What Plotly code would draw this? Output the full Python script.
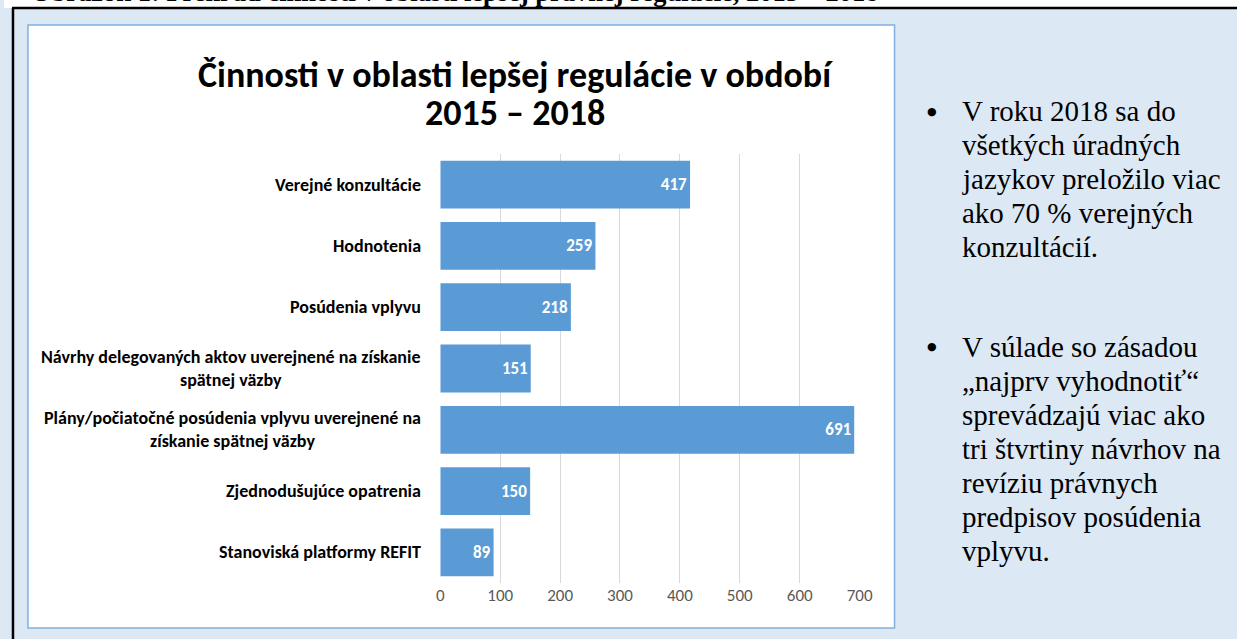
import plotly.graph_objects as go

W, H = 1237, 639
WE = 1222  # effective drawing width observed in the viewer

categories = [
    "Verejné konzultácie",
    "Hodnotenia",
    "Posúdenia vplyvu",
    "Návrhy delegovaných aktov uverejnené na získanie<br>spätnej väzby",
    "Plány/počiatočné posúdenia vplyvu uverejnené na<br>získanie spätnej väzby",
    "Zjednodušujúce opatrenia",
    "Stanoviská platformy REFIT",
]
values = [417, 259, 218, 151, 691, 150, 89]
x_ticks = [0, 100, 200, 300, 400, 500, 600, 700]

title_lines = ["Činnosti v oblasti lepšej regulácie v období", "2015 – 2018"]
caption_text = "Obrázok 1: Prehľad činnosti v oblasti lepšej právnej regulácie, 2015 – 2018"
bullet1 = ["V roku 2018 sa do", "všetkých úradných", "jazykov preložilo viac",
           "ako 70 % verejných", "konzultácií."]
bullet2 = ["V súlade so zásadou", "„najprv vyhodnotiť“", "sprevádzajú viac ako",
           "tri štvrtiny návrhov na", "revíziu právnych", "predpisov posúdenia", "vplyvu."]

SANS = "Carlito, Calibri, Lato, sans-serif"
SERIF = "Liberation Serif, Times New Roman, serif"
BG = "#dde8f5"


def px(x):
    return x / WE


def py(y):
    return 1 - y / H


fig = go.Figure()
fig.add_trace(
    go.Bar(
        x=values,
        y=categories,
        orientation="h",
        marker=dict(color="#5b9bd5", line=dict(width=0)),
        text=values,
        texttemplate="<b>%{x}</b>",
        textposition="inside",
        insidetextanchor="end",
        textfont=dict(color="white", size=17, family=SANS),
        hoverinfo="skip",
    )
)
# caption at very top, clipped by a thin subplot strip
fig.add_trace(
    go.Scatter(
        x=[27], y=[6], mode="text", text=["<b>" + caption_text + "</b>"],
        textposition="middle right", textfont=dict(family=SERIF, size=26.5, color="black"),
        xaxis="x2", yaxis="y2", cliponaxis=True, hoverinfo="skip",
    )
)

shapes = [
    dict(type="rect", xref="paper", yref="paper", x0=0, x1=1.05, y0=py(8), y1=1,
         fillcolor="white", line=dict(width=0), layer="below"),
    dict(type="rect", xref="paper", yref="paper", x0=px(24), x1=px(892), y0=py(628), y1=py(25),
         fillcolor="white", line=dict(color="#7fb0e0", width=1.5), layer="below"),
    dict(type="line", xref="paper", yref="paper", x0=px(8), x1=1.05, y0=py(8), y1=py(8),
         line=dict(color="black", width=2.5)),
    dict(type="line", xref="paper", yref="paper", x0=px(9), x1=px(9), y0=0, y1=py(8),
         line=dict(color="black", width=2.5)),
]

annotations = []
for t, yy in zip(title_lines, [75, 113]):
    annotations.append(dict(text="<b>" + t + "</b>", xref="paper", yref="paper",
                            x=px(512), y=py(yy), xanchor="center", yanchor="middle",
                            showarrow=False, font=dict(family=SANS, size=36, color="black")))
for c in categories:
    annotations.append(dict(text="<b>" + c + "</b>", xref="x", yref="y", x=0, y=c,
                            xanchor="right", yanchor="middle", xshift=-17, align="center",
                            showarrow=False, font=dict(family=SANS, size=18, color="black")))
b1_y = [111, 145, 179, 213, 247]
b2_y = [347, 381, 415, 449, 483, 517, 551]
for lines, ys in ((bullet1, b1_y), (bullet2, b2_y)):
    annotations.append(dict(text="●", xref="paper", yref="paper", x=px(930), y=py(ys[0]),
                            xanchor="center", yanchor="middle", showarrow=False,
                            font=dict(family="DejaVu Sans", size=11, color="black")))
    for t, yy in zip(lines, ys):
        annotations.append(dict(text=t, xref="paper", yref="paper", x=px(958), y=py(yy),
                                xanchor="left", yanchor="middle", showarrow=False,
                                font=dict(family=SERIF, size=29, color="black")))

fig.update_layout(
    width=W, height=H, autosize=False,
    margin=dict(l=0, r=0, t=0, b=0),
    paper_bgcolor=BG,
    plot_bgcolor="rgba(0,0,0,0)",
    showlegend=False,
    bargap=0.22,
    hovermode=False,
    xaxis=dict(domain=[px(437), px(857)], range=[0, 700], tickvals=x_ticks,
               showgrid=True, gridcolor="#d9d9d9", gridwidth=1, zeroline=False,
               showline=False, ticks="", tickfont=dict(family=SANS, size=17, color="#595959")),
    yaxis=dict(domain=[py(583), py(154)], categoryorder="array", categoryarray=categories,
               autorange="reversed", showticklabels=False, showgrid=False, zeroline=False,
               showline=False, ticks=""),
    xaxis2=dict(domain=[0, 1], range=[0, WE], visible=False, anchor="y2"),
    yaxis2=dict(domain=[py(7), 1], range=[-7, 0], visible=False, anchor="x2"),
    shapes=shapes,
    annotations=annotations,
)

fig.write_html(
    "out.html",
    config={"displayModeBar": False, "staticPlot": True, "responsive": False},
    post_script=(
        "document.documentElement.style.background='" + BG + "';"
        "document.body.style.background='" + BG + "';"
        "document.body.style.margin='0';"
    ),
)
